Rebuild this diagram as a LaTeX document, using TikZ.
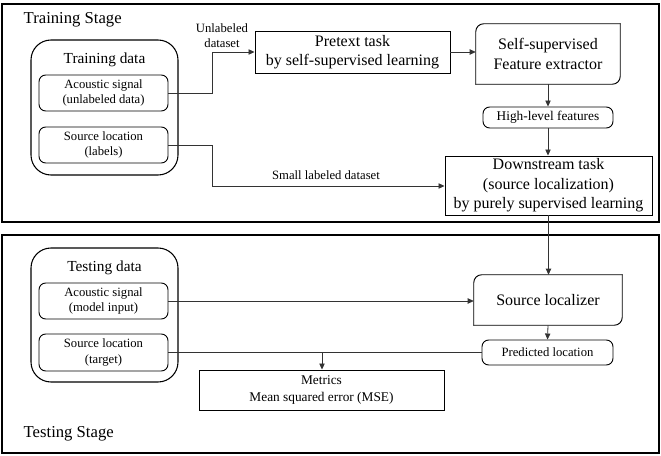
\documentclass[tikz,border=0pt]{standalone}
\usepackage{fontspec}
\setmainfont{Liberation Serif}
\usetikzlibrary{arrows.meta,calc}
\begin{document}
\begin{tikzpicture}[x=0.75pt,y=-0.75pt,
  frame/.style={draw,line width=1.8pt},
  group/.style={draw,line width=0.8pt,rounded corners=15pt},
  item/.style={draw,line width=0.7pt,rounded corners=5pt,align=center,
    font=\fontsize{9.5}{11.5}\selectfont,inner sep=0pt},
  plain/.style={draw,line width=0.7pt,align=center,
    font=\fontsize{12}{14.5}\selectfont,inner sep=0pt},
  diag/.style={align=center,font=\fontsize{12}{14.5}\selectfont,inner sep=0pt},
  edge/.style={line width=0.7pt,rounded corners=6pt,line cap=rect},
  link/.style={draw=black!80,line width=0.6pt},
  arr/.style={link,-{Triangle[length=4.5pt,width=4pt]}},
  lbl/.style={font=\fontsize{9.5}{11}\selectfont,align=center},
  stage/.style={font=\fontsize{12.5}{14}\selectfont,anchor=west}
]
\useasboundingbox (0,0) rectangle (661,456);

% stage frames
\draw[frame] (2,4) rectangle (659,222);
\draw[frame] (2,235) rectangle (659,453);
\node[stage] (trstage) at (19,20) {Training Stage};
\node[stage] (testage) at (19,434) {Testing Stage};

% ---------- training stage ----------
\node[group,minimum width=147*0.75pt,minimum height=135*0.75pt] (trdata) at (104.5,107.5) {};
\node[font=\fontsize{11.5}{13}\selectfont] (trtitle) at (104.5,60) {Training data};
\node[item,minimum width=129*0.75pt,minimum height=36*0.75pt] (acU) at (103.5,93)
  {Acoustic signal\\(unlabeled data)};
\node[item,minimum width=129*0.75pt,minimum height=36*0.75pt] (srcL) at (103.5,145)
  {Source location\\(labels)};

\node[plain,minimum width=195*0.75pt,minimum height=42*0.75pt] (pretext) at (352.5,52)
  {Pretext task\\by self-supervised learning};

\node[diag,minimum width=144*0.75pt,minimum height=60*0.75pt] (ssfe) at (548,54)
  {Self-supervised\\Feature extractor};
\draw[edge] (ssfe.south west) -- (ssfe.north west) -- (ssfe.north east);
\draw[edge] (ssfe.north east) -- (ssfe.south east) -- (ssfe.south west);

\node[item,font=\fontsize{10}{12}\selectfont,minimum width=130*0.75pt,minimum height=21*0.75pt] (hlf) at (548,117.5)
  {High-level features};

\node[plain,minimum width=207*0.75pt,minimum height=59*0.75pt] (down) at (548.5,185.5)
  {Downstream task\\(source localization)\\by purely supervised learning};

\coordinate (b1) at (212,52);
\coordinate (b2) at (212,186);
\draw[arr] (acU.east) -| (b1) -- (pretext.west);
\node[lbl] (ulbl) at (222,36) {Unlabeled\\dataset};
\draw[arr] (srcL.east) -| (b2) -- (b2 -| down.west);
\node[lbl] (slbl) at (326,175) {Small labeled dataset};

\draw[arr] (pretext.east) -- (pretext.east -| ssfe.west);
\draw[arr] (ssfe.south) -- (hlf.north);
\draw[arr] (hlf.south) -- (hlf.south |- down.north);

% ---------- testing stage ----------
\node[group,minimum width=147*0.75pt,minimum height=134*0.75pt] (tedata) at (104.5,315) {};
\node[font=\fontsize{11.5}{13}\selectfont] (tetitle) at (104.5,268) {Testing data};
\node[item,minimum width=129*0.75pt,minimum height=36*0.75pt] (acM) at (103.5,301)
  {Acoustic signal\\(model input)};
\node[item,minimum width=129*0.75pt,minimum height=37*0.75pt] (srcT) at (103.5,352.5)
  {Source location\\(target)};

\node[diag,minimum width=148*0.75pt,minimum height=50*0.75pt] (loc) at (548,300)
  {Source localizer};
\draw[edge] (loc.south west) -- (loc.north west) -- (loc.north east);
\draw[edge] (loc.north east) -- (loc.south east) -- (loc.south west);

\node[item,minimum width=131*0.75pt,minimum height=25*0.75pt] (pred) at (547.5,352.5)
  {Predicted location};

\node[draw,line width=0.7pt,align=center,font=\fontsize{10}{12.5}\selectfont,
  minimum width=245*0.75pt,minimum height=40*0.75pt,inner sep=0pt] (metrics) at (321.5,390)
  {Metrics\\Mean squared error (MSE)};

\coordinate (j) at (322,352.5);
\draw[arr] (down.south) -- (down.south |- loc.north);
\draw[arr] (acM.east) -- (acM.east -| loc.west);
\draw[arr] (loc.south) -- (pred.north);
\draw[link] (srcT.east) -- (pred.west);
\draw[arr] (j) -- (j |- metrics.north);
\end{tikzpicture}
\end{document}
